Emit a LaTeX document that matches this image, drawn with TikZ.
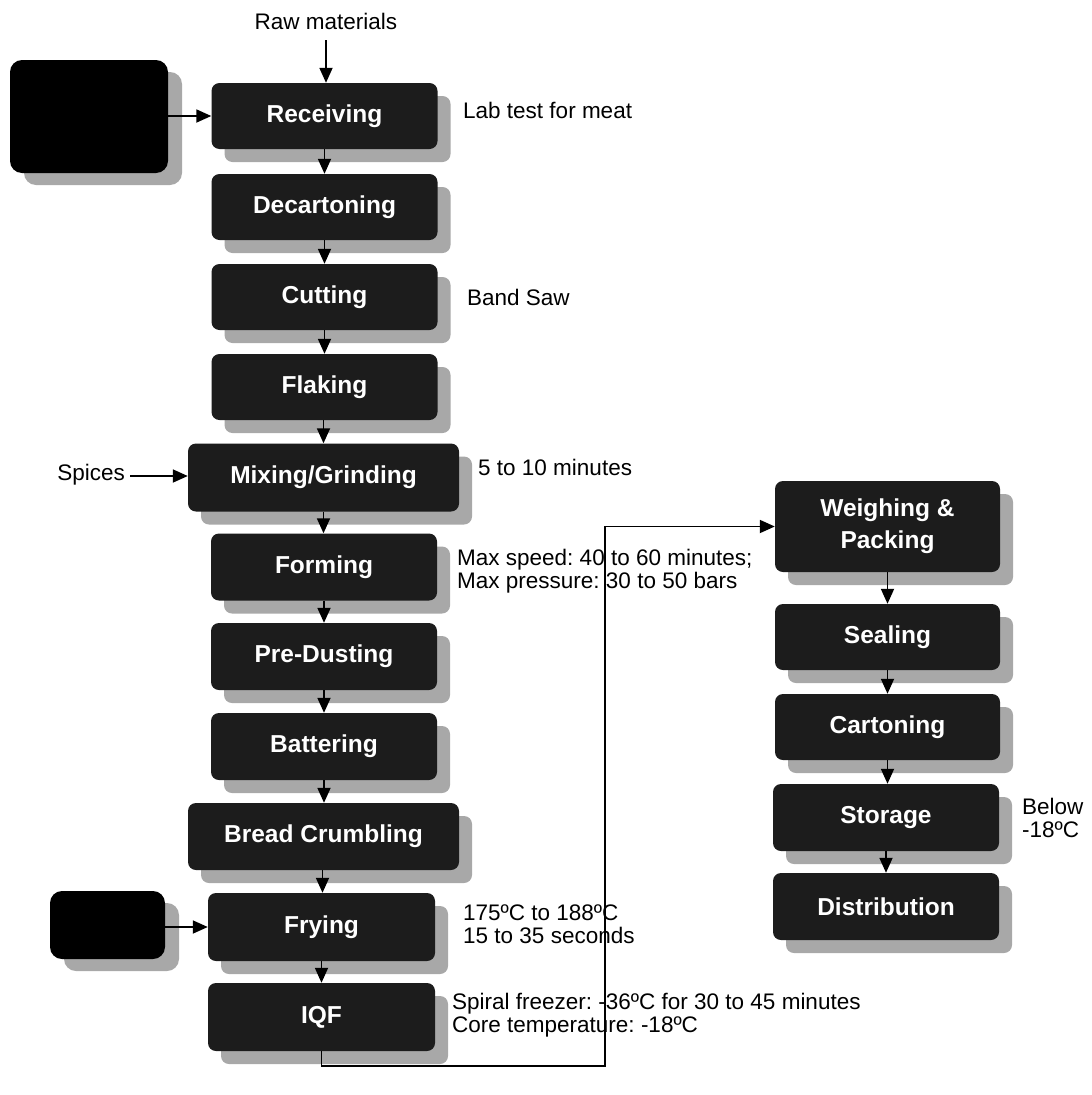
\documentclass[tikz,border=0pt]{standalone}
\usepackage{fontspec}
\setmainfont{Liberation Sans}
\frenchspacing
\usetikzlibrary{arrows.meta,shadows}
\definecolor{boxc}{HTML}{1C1C1C}
\definecolor{shadc}{HTML}{A8A8A8}
\tikzset{
  proc/.style={draw=none, fill=boxc, rounded corners=8pt, text=white,
    font=\fontsize{24.5}{32}\selectfont\bfseries, inner sep=0pt, align=center,
    drop shadow={shadow xshift=13pt, shadow yshift=-13pt, fill=shadc, opacity=1}},
  blackbox/.style={draw=none, fill=black, rounded corners=12pt, inner sep=0pt,
    drop shadow={shadow xshift=14pt, shadow yshift=-12pt, fill=shadc, opacity=1}},
  note/.style={anchor=west, align=left, inner sep=0pt,
    font=\fontsize{22.5}{23}\selectfont},
  arr/.style={line width=1.8pt, -{Triangle[length=15pt,width=13pt]}}
}
\begin{document}
\begin{tikzpicture}[x=1pt,y=-1pt]
\useasboundingbox[fill=white] (0,0) rectangle (1092,1095);

% left column
\node[proc, minimum width=226, minimum height=66] (rec) at (324.5,116) {Receiving};
\node[proc, minimum width=226, minimum height=66] (dec) at (324.5,207) {Decartoning};
\node[proc, minimum width=226, minimum height=66] (cut) at (324.5,297) {Cutting};
\node[proc, minimum width=226, minimum height=66] (fla) at (324.5,387) {Flaking};
\node[proc, minimum width=271, minimum height=68] (mix) at (323.5,477.5) {Mixing/Grinding};
\node[proc, minimum width=226, minimum height=67] (form) at (324,567) {Forming};
\node[proc, minimum width=226, minimum height=67] (pre) at (324,656.5) {Pre-Dusting};
\node[proc, minimum width=226, minimum height=67] (bat) at (324,746.5) {Battering};
\node[proc, minimum width=271, minimum height=67] (bread) at (323.5,836.5) {Bread Crumbling};
\node[proc, minimum width=227, minimum height=68] (fry) at (321.5,927) {Frying};
\node[proc, minimum width=227, minimum height=68] (iqf) at (321.5,1017) {IQF};

% left black boxes
\node[blackbox, minimum width=158, minimum height=113] (lb1) at (89,116.5) {};
\node[blackbox, minimum width=115, minimum height=68] (lb2) at (107.5,925) {};

% right column
\node[proc, minimum width=225, minimum height=91] (wp) at (887.5,526.5) {Weighing \&\\Packing};
\node[proc, minimum width=225, minimum height=66] (seal) at (887.5,637) {Sealing};
\node[proc, minimum width=225, minimum height=66] (cart) at (887.5,727) {Cartoning};
\node[proc, minimum width=226, minimum height=67] (stor) at (886,817.5) {Storage};
\node[proc, minimum width=226, minimum height=67] (dist) at (886,906.5) {Distribution};

% inputs
\node[anchor=center, inner sep=0pt, font=\fontsize{22.5}{23}\selectfont] (raw) at (326,21) {Raw materials};
\node[anchor=east, inner sep=0pt, font=\fontsize{22.5}{23}\selectfont] (spi) at (125,475) {Spices};

% notes
\node[note] (n1) at (463,110) {Lab test for meat};
\node[note] (n2) at (467,297) {Band Saw};
\node[note] (n3) at (478,467) {5 to 10 minutes};
\node[note] (n4) at (457,571.5) {Max speed: 40 to 60 minutes;\\Max pressure: 30 to 50 bars};
\node[note] (n5) at (463,924) {175ºC to 188ºC\\15 to 35 seconds};
\node[note] (n6) at (452,1015) {Spiral freezer: -36ºC for 30 to 45 minutes\\Core temperature: -18ºC};
\node[note] (n7) at (1022,817.5) {Below\\-18ºC};

% connectors
\coordinate (rawbot) at (326,40);
\draw[arr] (rawbot) -- (rawbot |- rec.north);
\draw[arr] (lb1.east |- rec.west) -- (rec.west);
\draw[arr] (spi.east) ++(5,1) coordinate (spiend) -- (spiend -| mix.west);
\draw[arr] (lb2.east |- fry.west) -- (fry.west);

\draw[arr] (rec.south) -- (rec.south |- dec.north);
\draw[arr] (dec.south) -- (dec.south |- cut.north);
\draw[arr] (cut.south) -- (cut.south |- fla.north);
\draw[arr] (fla.south) ++(-1,0) coordinate (fs) -- (fs |- mix.north);
\draw[arr] (mix.south) -- (mix.south |- form.north);
\draw[arr] (form.south) -- (form.south |- pre.north);
\draw[arr] (pre.south) -- (pre.south |- bat.north);
\draw[arr] (bat.south) -- (bat.south |- bread.north);
\draw[arr] (bread.south) ++(-1,0) coordinate (bs) -- (bs |- fry.north);
\draw[arr] (fry.south) -- (fry.south |- iqf.north);

\coordinate (turn) at (605,526.5);
\draw[arr] (iqf.south) -- ++(0,15) -| (turn) -- (wp.west);

\draw[arr] (wp.south) -- (wp.south |- seal.north);
\draw[arr] (seal.south) -- (seal.south |- cart.north);
\draw[arr] (cart.south) -- (cart.south |- stor.north);
\draw[arr] (stor.south) -- (stor.south |- dist.north);
\end{tikzpicture}
\end{document}
